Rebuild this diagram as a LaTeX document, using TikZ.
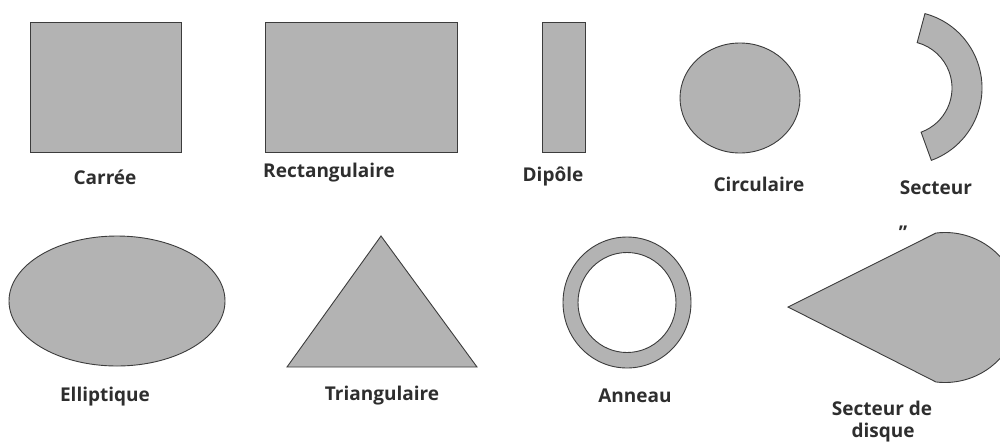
\documentclass[tikz,border=0pt]{standalone}
\usepackage{fontspec}
\setmainfont{Open Sans}
\usepackage{tikz}
\usetikzlibrary{positioning}

\definecolor{shapefill}{HTML}{B3B3B3}
\definecolor{shapeline}{HTML}{3C3C3C}
\definecolor{labeltext}{HTML}{2E2E2E}

\begin{document}
\begin{tikzpicture}[
  x=0.5pt, y=-0.5pt,
  patch/.style={fill=shapefill, draw=shapeline, line width=0.45pt},
  plabel/.style={font=\bfseries\fontsize{9.5}{11}\selectfont, text=labeltext, inner sep=0pt},
]
% Page frame, same size as the reference (1000 x 445 px).
\useasboundingbox (0,0) rectangle (1000,445);
\clip (0,0) rectangle (1000,445);

% Top row: square, rectangle, dipole, circle, sector.
\draw[patch] (30,22) rectangle (181,152);
\draw[patch] (265,22) rectangle (457,152);
\draw[patch] (542,22) rectangle (585,152);
\draw[patch] (740,98) ellipse[x radius=60, y radius=55];
\draw[patch] ([shift={(905,88)}]-75:77) arc[start angle=-75, end angle=70, radius=77]
  -- ([shift={(905,88)}]70:47) arc[start angle=70, end angle=-75, radius=47] -- cycle;

\node[plabel] (carree) at (105,177) {Carrée};
\node[plabel] (rect)   at (329,173) {Rectangulaire};
\node[plabel] (dipole) at (553,176) {Dipôle};
\node[plabel] (circ)   at (759,184) {Circulaire};
\node[plabel] (sect)   at (936,188) {Secteur};

% Bottom row: ellipse, triangle, ring, disc sector.
\draw[patch] (117,301) ellipse[x radius=108, y radius=65];
\draw[patch] (381,236) -- (477,367) -- (287,367) -- cycle;
\draw[patch, even odd rule] (627,302.5) ellipse[x radius=64, y radius=65.5]
  (627,302.5) ellipse[x radius=49, y radius=50];
\draw[patch] (788,307) -- ([shift={(945,307.5)}]-97:75)
  arc[start angle=-97, end angle=97, radius=75] -- cycle;

\node[plabel] (ellip) at (105,397) {Elliptique};
\node[plabel] (tri)   at (382,396) {Triangulaire};
\node[plabel] (ann)   at (635,396) {Anneau};
\node[plabel] (sdisq) at (882,408) {Secteur de};
\node[plabel] (disq)  at (883,433) {disque};
\node[plabel] (mark)  at (903,233) {’’};

\end{tikzpicture}
\end{document}
